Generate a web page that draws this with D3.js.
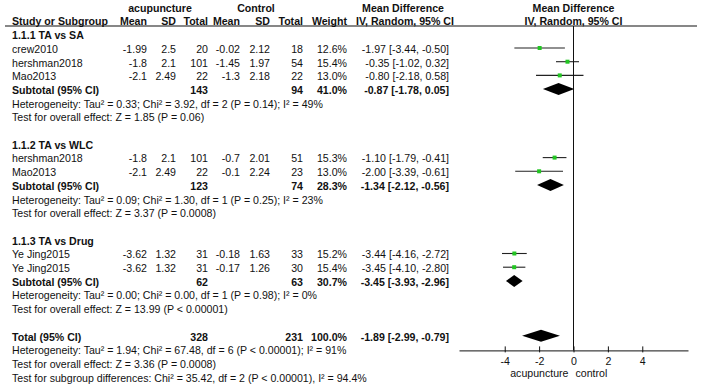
<!DOCTYPE html>
<html><head><meta charset="utf-8">
<script src="https://cdn.jsdelivr.net/npm/d3@7"></script>
<style>
body{margin:0;background:#fff}
text{font-family:"Liberation Sans",Arial,sans-serif;font-size:10.6px;fill:#111}
</style>
</head><body><svg id="c" width="701" height="388"></svg>
<script>
// ---------- data ----------
const groupNames = ["1.1.1 TA vs SA", "1.1.2 TA vs WLC", "1.1.3 TA vs Drug"];
const studyNames = ["crew2010", "hershman2018", "Mao2013", "hershman2018", "Mao2013", "Ye Jing2015", "Ye Jing2015"];
const studyGroup = [0, 0, 0, 1, 1, 2, 2];
const acuMean = [-1.99, -1.8, -2.1, -1.8, -2.1, -3.62, -3.62];
const acuSD   = [2.5, 2.1, 2.49, 2.1, 2.49, 1.32, 1.32];
const acuN    = [20, 101, 22, 101, 22, 31, 31];
const ctlMean = [-0.02, -1.45, -1.3, -0.7, -0.1, -0.18, -0.17];
const ctlSD   = [2.12, 1.97, 2.18, 2.01, 2.24, 1.63, 1.26];
const ctlN    = [18, 54, 22, 51, 23, 33, 30];
const studyWeight = [12.6, 15.4, 13.0, 15.3, 13.0, 15.2, 15.4];
const studyMD = [-1.97, -0.35, -0.80, -1.10, -2.00, -3.44, -3.45];
const studyLo = [-3.44, -1.02, -2.18, -1.79, -3.39, -4.16, -4.10];
const studyHi = [-0.50, 0.32, 0.58, -0.41, -0.61, -2.72, -2.80];

const subAcuN = [143, 123, 62];
const subCtlN = [94, 74, 63];
const subWeight = [41.0, 28.3, 30.7];
const subMD = [-0.87, -1.34, -3.45];
const subLo = [-1.78, -2.12, -3.93];
const subHi = [0.05, -0.56, -2.96];
const subHet = [
  "Heterogeneity: Tau\u00b2 = 0.33; Chi\u00b2 = 3.92, df = 2 (P = 0.14); I\u00b2 = 49%",
  "Heterogeneity: Tau\u00b2 = 0.09; Chi\u00b2 = 1.30, df = 1 (P = 0.25); I\u00b2 = 23%",
  "Heterogeneity: Tau\u00b2 = 0.00; Chi\u00b2 = 0.00, df = 1 (P = 0.98); I\u00b2 = 0%"
];
const subTest = [
  "Test for overall effect: Z = 1.85 (P = 0.06)",
  "Test for overall effect: Z = 3.37 (P = 0.0008)",
  "Test for overall effect: Z = 13.99 (P < 0.00001)"
];
const totalAcuN = 328, totalCtlN = 231, totalWeight = 100.0;
const totalMD = -1.89, totalLo = -2.99, totalHi = -0.79;
const totalNotes = [
  "Heterogeneity: Tau\u00b2 = 1.94; Chi\u00b2 = 67.48, df = 6 (P < 0.00001); I\u00b2 = 91%",
  "Test for overall effect: Z = 3.36 (P = 0.0008)",
  "Test for subgroup differences: Chi\u00b2 = 35.42, df = 2 (P < 0.00001), I\u00b2 = 94.4%"
];
const tickValues = [-4, -2, 0, 2, 4];
const tickLabels = ["-4", "-2", "0", "2", "4"];
const favourLabels = ["acupuncture", "control"];

// ---------- layout ----------
const svg = d3.select("#c");
const rowY = d3.scaleLinear().domain([3, 27]).range([49, 377.8]);   // text centre of each row
const col = {name: 12, m1: 147, sd1: 176, n1: 208, m2: 240, sd2: 270, n2: 303, w: 347, md: 449};
const x = d3.scaleLinear().domain([-6.66, 6.66]).range([459, 688]);
const green = "#22c622";

function txt(xp, row, s, anchor, bold, dy) {
  svg.append("text").attr("x", xp).attr("y", rowY(row) + 3.8 + (dy || 0))
    .attr("text-anchor", anchor || "start")
    .attr("font-weight", bold ? "bold" : null)
    .text(s);
}
const f2 = v => v.toFixed(2);
const ci = (m, l, h) => `${f2(m)} [${f2(l)}, ${f2(h)}]`;
const pct = v => v.toFixed(1) + "%";

// headers
txt(160, 0, "acupuncture", "middle", true);
txt(256, 0, "Control", "middle", true);
txt(403, 0, "Mean Difference", "middle", true);
txt(x(0), 0, "Mean Difference", "middle", true);
txt(col.name, 1, "Study or Subgroup", "start", true);
txt(col.m1, 1, "Mean", "end", true);
txt(col.sd1, 1, "SD", "end", true);
txt(col.n1, 1, "Total", "end", true);
txt(col.m2, 1, "Mean", "end", true);
txt(col.sd2, 1, "SD", "end", true);
txt(col.n2, 1, "Total", "end", true);
txt(col.w, 1, "Weight", "end", true);
txt(405, 1, "IV, Random, 95% CI", "middle", true);
txt(x(0), 1, "IV, Random, 95% CI", "middle", true);

const headLineY = 26;
svg.append("line").attr("x1", 5).attr("x2", 697).attr("y1", headLineY).attr("y2", headLineY)
  .attr("stroke", "#111").attr("stroke-width", 1.2);

const plotG = svg.append("g");
function diamond(row, m, l, h) {
  const y = rowY(row) - 1;
  plotG.append("path")
    .attr("d", `M${x(l)},${y}L${x(m)},${y - 6}L${x(h)},${y}L${x(m)},${y + 6}Z`)
    .attr("fill", "#000");
}

let r = 2;
groupNames.forEach((g, gi) => {
  txt(col.name, r, g, "start", true);
  r++;
  studyNames.forEach((s, i) => {
    if (studyGroup[i] !== gi) return;
    txt(col.name, r, s);
    txt(col.m1, r, String(acuMean[i]), "end");
    txt(col.sd1, r, String(acuSD[i]), "end");
    txt(col.n1, r, String(acuN[i]), "end");
    txt(col.m2, r, String(ctlMean[i]), "end");
    txt(col.sd2, r, String(ctlSD[i]), "end");
    txt(col.n2, r, String(ctlN[i]), "end");
    txt(col.w, r, pct(studyWeight[i]), "end");
    txt(col.md, r, ci(studyMD[i], studyLo[i], studyHi[i]), "end");
    const y = rowY(r) - 1;
    plotG.append("line").attr("x1", x(studyLo[i])).attr("x2", x(studyHi[i]))
      .attr("y1", y).attr("y2", y).attr("stroke", "#222").attr("stroke-width", 1.1);
    plotG.append("rect").attr("x", x(studyMD[i]) - 2).attr("y", y - 2)
      .attr("width", 4).attr("height", 4).attr("fill", green);
    r++;
  });
  txt(col.name, r, "Subtotal (95% CI)", "start", true);
  txt(col.n1, r, String(subAcuN[gi]), "end", true);
  txt(col.n2, r, String(subCtlN[gi]), "end", true);
  txt(col.w, r, pct(subWeight[gi]), "end", true);
  txt(col.md, r, ci(subMD[gi], subLo[gi], subHi[gi]), "end", true);
  diamond(r, subMD[gi], subLo[gi], subHi[gi]);
  r++;
  txt(col.name, r, subHet[gi]); r++;
  txt(col.name, r, subTest[gi]); r++;
  r++;
});
txt(col.name, r, "Total (95% CI)", "start", true);
txt(col.n1, r, String(totalAcuN), "end", true);
txt(col.n2, r, String(totalCtlN), "end", true);
txt(col.w, r, pct(totalWeight), "end", true);
txt(col.md, r, ci(totalMD, totalLo, totalHi), "end", true);
diamond(r, totalMD, totalLo, totalHi);
r++;
const axisRow = r;
totalNotes.forEach(s => { txt(col.name, r, s); r++; });

// zero line & axis
const axisY = rowY(axisRow);
svg.append("line").attr("x1", x(0)).attr("x2", x(0)).attr("y1", headLineY).attr("y2", axisY)
  .attr("stroke", "#111").attr("stroke-width", 1);
const ax = svg.append("g").attr("transform", `translate(0,${axisY})`)
  .call(d3.axisBottom(x).tickValues(tickValues).tickFormat((d, i) => tickLabels[i])
    .tickSizeInner(-4).tickSizeOuter(0).tickPadding(7));
ax.select(".domain").attr("stroke", "#111");
ax.selectAll(".tick line").attr("stroke", "#111").attr("y1", 2).attr("y2", -4);
ax.selectAll(".tick text").attr("font-size", 10.6).attr("font-family", "Liberation Sans, Arial, sans-serif").attr("fill", "#111");
svg.append("text").attr("x", x(0) - 5).attr("y", axisY + 27).attr("text-anchor", "end").text(favourLabels[0]);
svg.append("text").attr("x", x(0) + 2).attr("y", axisY + 27).attr("text-anchor", "start").text(favourLabels[1]);
</script>
</body></html>
